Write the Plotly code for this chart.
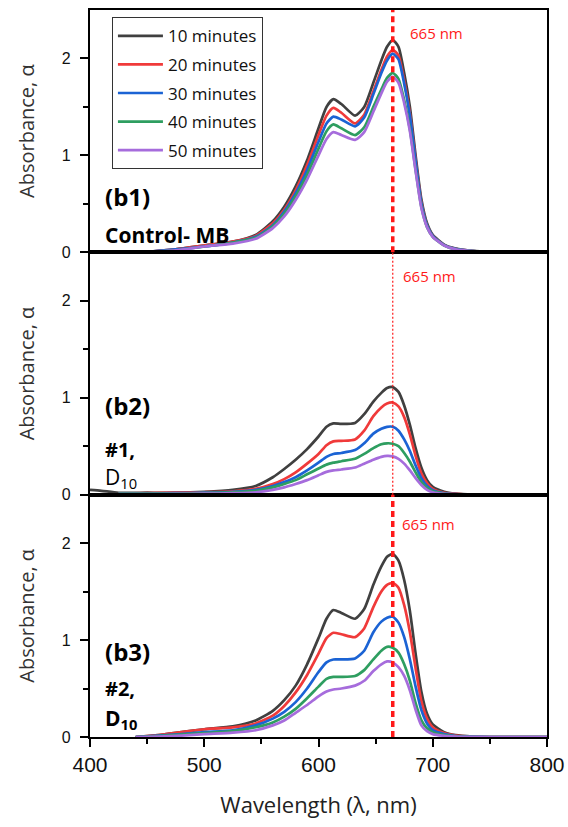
import plotly.graph_objects as go

# ---------------- data ----------------
series_names = ["10 minutes", "20 minutes", "30 minutes", "40 minutes", "50 minutes"]
colors = ["#404040", "#f03a3a", "#1b63d4", "#2e9e60", "#a66cdc"]

# Panel b1 : Control- MB
wl1 = [445, 475, 500, 525, 545, 560, 570, 580, 590, 600, 607, 613, 620, 632, 640, 648,
       655, 660, 665, 670, 675, 680, 685, 690, 695, 700, 710, 720, 735, 750, 780]
b1_10 = [0.00, 0.03, 0.07, 0.11, 0.18, 0.32, 0.47, 0.68, 0.95, 1.28, 1.50, 1.58, 1.53, 1.41, 1.50, 1.75,
         1.98, 2.12, 2.19, 2.12, 1.85, 1.50, 1.00, 0.55, 0.30, 0.18, 0.08, 0.04, 0.015, 0.005, 0.0]
b1_20 = [0.00, 0.03, 0.07, 0.11, 0.17, 0.30, 0.44, 0.64, 0.90, 1.21, 1.41, 1.49, 1.44, 1.33, 1.42, 1.66,
         1.88, 2.02, 2.09, 2.03, 1.77, 1.43, 0.95, 0.52, 0.28, 0.17, 0.075, 0.035, 0.013, 0.004, 0.0]
b1_30 = [0.00, 0.03, 0.06, 0.10, 0.16, 0.28, 0.42, 0.61, 0.85, 1.14, 1.33, 1.40, 1.37, 1.30, 1.39, 1.63,
         1.85, 1.98, 2.05, 1.99, 1.74, 1.41, 0.94, 0.51, 0.28, 0.17, 0.075, 0.035, 0.013, 0.004, 0.0]
b1_40 = [0.00, 0.02, 0.06, 0.10, 0.15, 0.27, 0.40, 0.58, 0.80, 1.07, 1.25, 1.32, 1.28, 1.21, 1.29, 1.50,
         1.68, 1.80, 1.85, 1.79, 1.57, 1.27, 0.85, 0.47, 0.26, 0.16, 0.07, 0.03, 0.012, 0.004, 0.0]
b1_50 = [0.00, 0.02, 0.06, 0.09, 0.14, 0.25, 0.37, 0.54, 0.75, 1.00, 1.17, 1.24, 1.21, 1.16, 1.24, 1.45,
         1.64, 1.76, 1.81, 1.75, 1.54, 1.25, 0.84, 0.46, 0.26, 0.16, 0.07, 0.03, 0.012, 0.004, 0.0]

# Panel b2 : #1, D10
wl2 = [400, 410, 425, 450, 475, 500, 525, 545, 560, 570, 580, 590, 600, 607, 613, 620, 632, 640,
       648, 655, 660, 665, 670, 675, 680, 685, 690, 695, 700, 710, 720, 735, 750]
b2_10 = [0.05, 0.04, 0.02, 0.02, 0.02, 0.03, 0.05, 0.09, 0.18, 0.265, 0.36, 0.47, 0.60, 0.70, 0.735, 0.73, 0.74, 0.83,
         0.96, 1.05, 1.10, 1.11, 1.06, 0.92, 0.72, 0.48, 0.28, 0.15, 0.08, 0.03, 0.01, 0.0, 0.0]
b2_20 = [None, None, 0.01, 0.015, 0.02, 0.025, 0.035, 0.06, 0.11, 0.16, 0.23, 0.32, 0.42, 0.51, 0.55, 0.555, 0.57, 0.66,
         0.81, 0.90, 0.94, 0.95, 0.91, 0.80, 0.62, 0.40, 0.22, 0.12, 0.06, 0.02, 0.008, 0.0, 0.0]
b2_30 = [None, None, 0.01, 0.012, 0.015, 0.02, 0.03, 0.05, 0.09, 0.13, 0.18, 0.25, 0.33, 0.39, 0.42, 0.43, 0.46, 0.53,
         0.63, 0.68, 0.70, 0.70, 0.66, 0.57, 0.45, 0.30, 0.17, 0.09, 0.045, 0.015, 0.005, 0.0, 0.0]
b2_40 = [None, None, 0.01, 0.01, 0.012, 0.015, 0.025, 0.04, 0.075, 0.11, 0.15, 0.21, 0.27, 0.31, 0.33, 0.345, 0.37, 0.42,
         0.48, 0.52, 0.53, 0.525, 0.50, 0.43, 0.34, 0.23, 0.13, 0.07, 0.035, 0.012, 0.004, 0.0, 0.0]
b2_50 = [None, None, 0.005, 0.005, 0.008, 0.01, 0.015, 0.025, 0.05, 0.075, 0.11, 0.15, 0.20, 0.235, 0.25, 0.26, 0.28, 0.32,
         0.36, 0.39, 0.40, 0.395, 0.37, 0.32, 0.25, 0.17, 0.10, 0.05, 0.025, 0.008, 0.003, 0.0, 0.0]

# Panel b3 : #2, D10
wl3 = [440, 460, 480, 500, 525, 545, 560, 570, 580, 590, 600, 607, 613, 620, 632, 640, 648,
       655, 660, 665, 670, 675, 680, 685, 690, 695, 700, 710, 720, 735, 750, 775, 800]
b3_10 = [0.0, 0.02, 0.05, 0.08, 0.11, 0.17, 0.27, 0.38, 0.53, 0.75, 1.02, 1.22, 1.31, 1.28, 1.22, 1.32, 1.57,
         1.76, 1.86, 1.89, 1.82, 1.62, 1.30, 0.86, 0.47, 0.24, 0.13, 0.05, 0.02, 0.005, 0.0, 0.0, 0.0]
b3_20 = [0.0, 0.02, 0.05, 0.08, 0.10, 0.14, 0.22, 0.32, 0.46, 0.64, 0.86, 1.02, 1.075, 1.06, 1.03, 1.12, 1.34,
         1.50, 1.57, 1.59, 1.54, 1.36, 1.08, 0.71, 0.37, 0.19, 0.10, 0.04, 0.015, 0.004, 0.0, 0.0, 0.0]
b3_30 = [0.0, 0.015, 0.03, 0.05, 0.07, 0.12, 0.19, 0.26, 0.36, 0.50, 0.67, 0.77, 0.80, 0.80, 0.81, 0.89, 1.08,
         1.19, 1.23, 1.24, 1.18, 1.03, 0.80, 0.52, 0.28, 0.14, 0.07, 0.03, 0.01, 0.003, 0.0, 0.0, 0.0]
b3_40 = [0.0, 0.01, 0.025, 0.04, 0.06, 0.10, 0.15, 0.21, 0.29, 0.40, 0.52, 0.60, 0.62, 0.62, 0.63, 0.69, 0.80,
         0.89, 0.93, 0.92, 0.87, 0.75, 0.58, 0.35, 0.175, 0.09, 0.05, 0.02, 0.008, 0.002, 0.0, 0.0, 0.0]
b3_50 = [0.0, 0.005, 0.015, 0.03, 0.045, 0.07, 0.12, 0.17, 0.25, 0.33, 0.42, 0.47, 0.49, 0.50, 0.53, 0.58, 0.68,
         0.75, 0.78, 0.77, 0.72, 0.63, 0.48, 0.28, 0.12, 0.06, 0.03, 0.012, 0.005, 0.001, 0.0, 0.0, 0.0]

panels = [
    (wl1, [b1_10, b1_20, b1_30, b1_40, b1_50]),
    (wl2, [b2_10, b2_20, b2_30, b2_40, b2_50]),
    (wl3, [b3_10, b3_20, b3_30, b3_40, b3_50]),
]
marker_wl = 665
x_ticks = [400, 500, 600, 700, 800]
y_ticks = [0, 1, 2]

# ---------------- figure ----------------
fig = go.Figure()
axis_ids = ["", "2", "3"]
for p, (wl, ys) in enumerate(panels):
    aid = axis_ids[p]
    for name, col, y in zip(series_names, colors, ys):
        fig.add_trace(go.Scatter(
            x=wl, y=y, mode="lines", name=name,
            line=dict(color=col, width=2.7, shape="spline", smoothing=0.6),
            showlegend=(p == 0), legendgroup=name,
            xaxis="x" + aid, yaxis="y" + aid, connectgaps=False,
        ))

domains = [[2 / 3, 1.0], [1 / 3, 2 / 3], [0.0, 1 / 3]]
layout = dict(
    width=568, height=827,
    margin=dict(l=90, r=21, t=10, b=90),
    plot_bgcolor="white", paper_bgcolor="white",
    font=dict(family="Open Sans", color="#222"),
    legend=dict(x=0.048, y=0.99, xanchor="left", yanchor="top",
                bordercolor="#333", borderwidth=1, bgcolor="white",
                font=dict(family="Open Sans", size=17, color="#111"),
                tracegroupgap=3.5, itemwidth=45),
    showlegend=True,
)
for p, aid in enumerate(axis_ids):
    last = (p == 2)
    xa = dict(
        range=[400, 800], domain=[0, 1], anchor="y" + aid, automargin=False,
        showline=True, linecolor="black", linewidth=2.2, mirror=True,
        ticks="outside" if last else "", ticklen=8, tickwidth=2, tickcolor="black",
        tickvals=x_ticks, showticklabels=last,
        tickfont=dict(family="Liberation Sans", size=21, color="#111"),
        minor=dict(tickvals=[450, 550, 650, 750], ticks="outside" if last else "",
                   ticklen=5, tickwidth=2, tickcolor="black"),
        showgrid=False, zeroline=False,
    )
    if last:
        xa["title"] = dict(text="Wavelength (λ, nm)",
                           font=dict(family="Open Sans", size=22, color="#222"), standoff=22)
    layout["xaxis" + aid] = xa
    layout["yaxis" + aid] = dict(
        range=[0, 2.5], domain=domains[p], anchor="x" + aid, automargin=False,
        showline=True, linecolor="black", linewidth=2.2, mirror=True,
        ticks="outside", ticklen=8, tickwidth=2, tickcolor="black",
        tickvals=y_ticks, ticklabelstandoff=6,
        tickfont=dict(family="Liberation Sans", size=16, color="#111"),
        minor=dict(tickvals=[0.5, 1.5], ticks="outside", ticklen=5, tickwidth=2, tickcolor="black"),
        showgrid=False, zeroline=False,
        title=dict(text="Absorbance, α", font=dict(family="Open Sans", size=20, color="#333"), standoff=22),
    )
fig.update_layout(**layout)

# 665 nm markers
line_styles = [dict(width=3.5, dash="6px,4px"), dict(width=1.2, dash="2px,2px"), dict(width=3.5, dash="6px,4px")]
label_y = [2.26, 2.26, 2.2]
label_x = [678, 672, 671]
for p, aid in enumerate(axis_ids):
    fig.add_shape(type="line", xref="x" + aid, yref="y" + aid + " domain",
                  x0=marker_wl, x1=marker_wl, y0=0, y1=1,
                  line=dict(color="#ff1a1a", **line_styles[p]))
    fig.add_annotation(x=label_x[p], y=label_y[p], xref="x" + aid, yref="y" + aid,
                       text=f"{marker_wl} nm", showarrow=False, xanchor="left",
                       font=dict(family="Open Sans", size=15, color="#ff1a1a"))

# panel labels
labels = [
    ("", "(b1)", 0.58, 24, True), ("", "Control- MB", 0.18, 21, True),
    ("2", "(b2)", 0.92, 24, True), ("2", "#1,", 0.47, 20, True), ("2", "D<sub>10</sub>", 0.17, 21, False),
    ("3", "(b3)", 0.88, 24, True), ("3", "#2,", 0.50, 20, True), ("3", "D<sub>10</sub>", 0.19, 21, True),
]
for aid, txt, yv, sz, bold in labels:
    t = f"<b>{txt}</b>" if bold else txt
    fig.add_annotation(x=411, y=yv, xref="x" + aid, yref="y" + aid, text=t, showarrow=False,
                       xanchor="left", font=dict(family="Open Sans", size=sz, color="black"))

fig.write_html("out.html")
